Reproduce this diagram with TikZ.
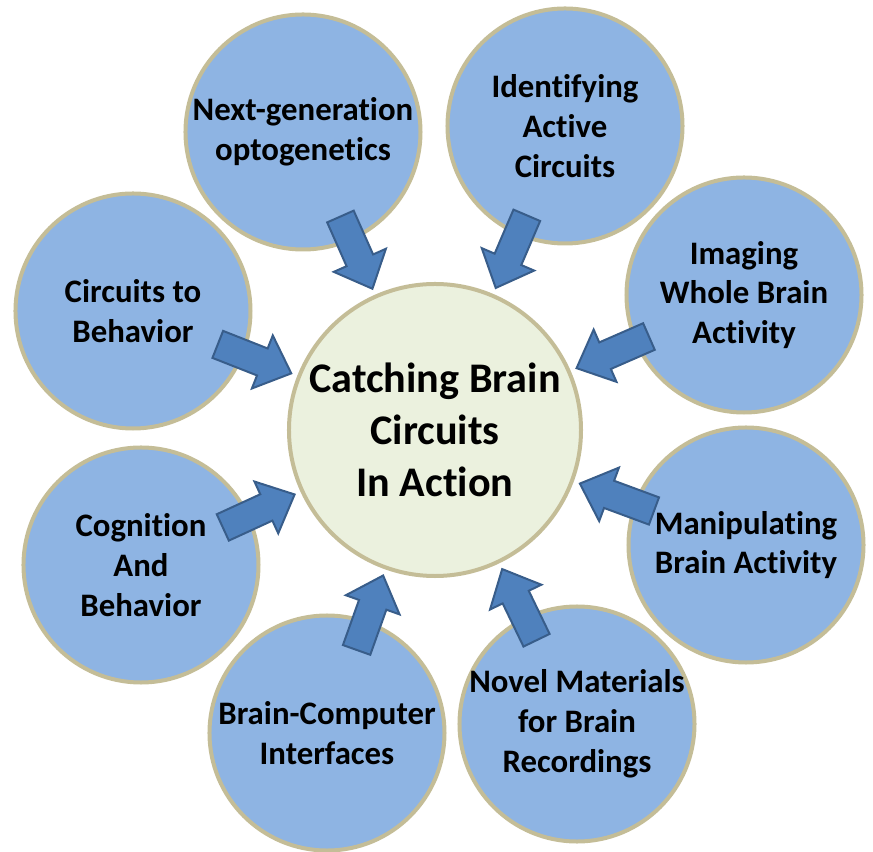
\documentclass[tikz,border=0pt]{standalone}
\usepackage{fontspec}
\setmainfont{Carlito}[Ligatures=CommonOff]
\usetikzlibrary{shapes.arrows, calc}
\definecolor{topicblue}{HTML}{8EB4E3}
\definecolor{rimtan}{HTML}{C4BD97}
\definecolor{arrowblue}{HTML}{4F81BD}
\definecolor{arrowrim}{HTML}{385D8A}
\definecolor{hubgreen}{HTML}{EBF1DE}
\tikzset{
	topic/.style={
		circle,
		draw=rimtan,
		line width=0.12cm,
		fill=topicblue,
		minimum size=7.05cm,
		inner sep=-0.5cm,
		align=center,
		font=\fontsize{28}{34}\selectfont\bfseries,
	},
	hub/.style={
		circle,
		draw=rimtan,
		line width=0.12cm,
		fill=hubgreen,
		minimum size=8.76cm,
		inner sep=-0.5cm,
		align=center,
		font=\fontsize{36}{44.5}\selectfont\bfseries,
	},
	push/.style={
		single arrow,
		draw=arrowrim,
		line width=0.06cm,
		fill=arrowblue,
		inner xsep=0pt,
		inner ysep=0.405cm,
		single arrow head extend=0.42cm,
		single arrow tip angle=85,
		minimum height=2.37cm,
	},
}

\begin{document}
\begin{tikzpicture}[x=0.03cm, y=0.03cm]
	\useasboundingbox (-435,-422) rectangle (438,430);
	% Place nodes
	\node [hub] (hub) at (0,0) {Catching Brain\\Circuits\\In Action};
	\node [topic] (opto) at (-132,298) {Next-generation\\optogenetics};
	\node [topic] (ident) at (130,304) {Identifying\\Active\\Circuits};
	\node [topic] (imaging) at (309,135) {Imaging\\Whole Brain\\Activity};
	\node [topic] (manip) at (311,-115) {Manipulating\\Brain Activity};
	\node [topic] (novel) at (142,-294) {Novel Materials\\for Brain\\Recordings};
	\node [topic] (bci) at (-108,-303) {Brain-Computer\\Interfaces};
	\node [topic] (cogn) at (-294,-135) {Cognition\\And\\Behavior};
	\node [topic] (behav) at (-302,119) {Circuits to\\Behavior};

	% Block arrows pointing at the hub
	\foreach \t in {opto, ident, imaging, manip, novel, bci, cogn, behav}
		\path (\t) -- node [push, pos=1, sloped, allow upside down, anchor=tip] {} ($(hub)!4.59cm!(\t)$);
\end{tikzpicture}
\end{document}
